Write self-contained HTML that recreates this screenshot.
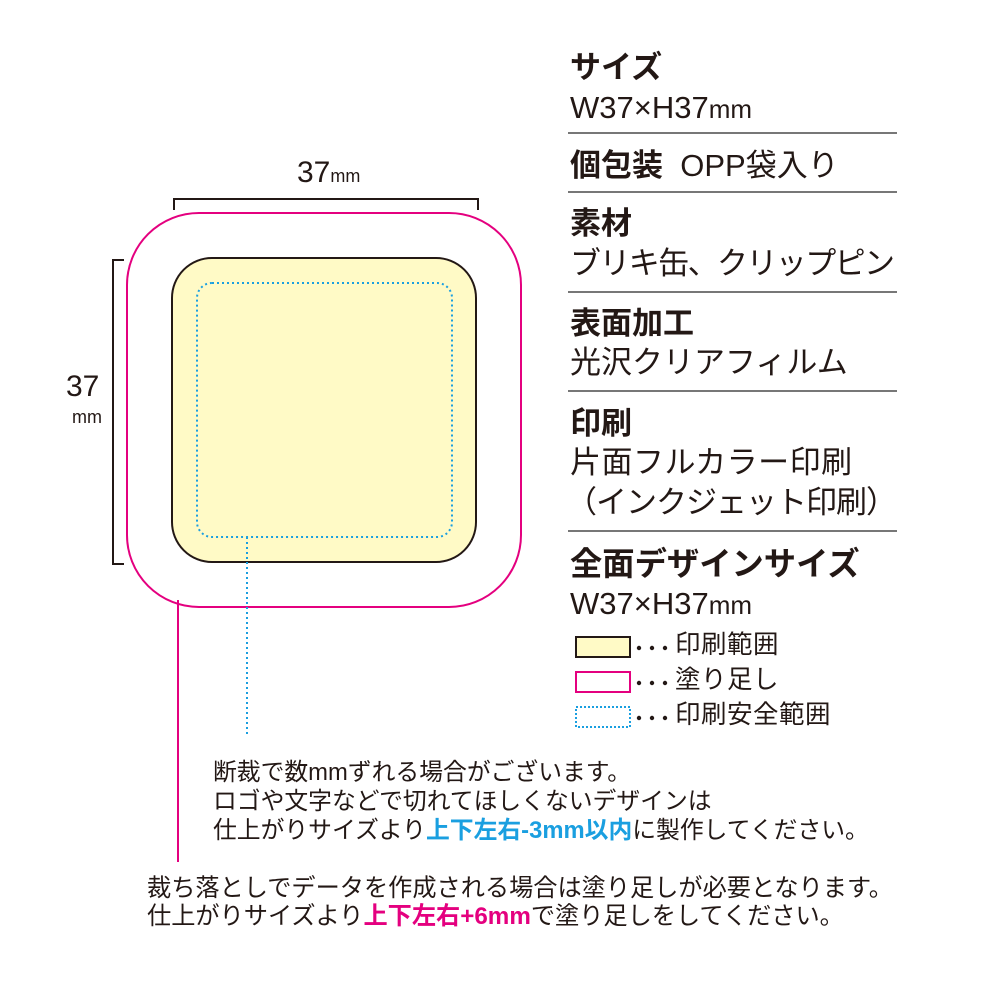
<!DOCTYPE html>
<html><head><meta charset="utf-8"><style>
body{margin:0;width:1000px;height:1000px;background:#fff;position:relative;overflow:hidden;font-family:"Liberation Sans","Noto Sans CJK JP",sans-serif;color:#231815}
.t{position:absolute;white-space:nowrap;line-height:1}
.h{font-weight:bold;font-size:31px}
.n{font-size:31px}
.hr{position:absolute;left:568px;width:329px;height:2px;background:#777}
.s{font-size:23.8px}
.b{font-size:24.2px}
.lg{font-size:25.5px;letter-spacing:0.5px}
.d{display:inline-block;width:42px;font-size:22px;letter-spacing:3px}
</style></head><body>
<svg width="1000" height="1000" style="position:absolute;left:0;top:0">
<rect x="127" y="213" width="394" height="394" rx="72" fill="none" stroke="#e4007f" stroke-width="2"/>
<rect x="172" y="258" width="304" height="304" rx="40" fill="#fffac6" stroke="#231815" stroke-width="2"/>
<rect x="197" y="283" width="255" height="254" rx="15" fill="none" stroke="#1a9fe0" stroke-width="2" stroke-dasharray="2 3"/>
<line x1="247" y1="537" x2="247" y2="735" stroke="#1a9fe0" stroke-width="2" stroke-dasharray="2 3"/>
<line x1="178" y1="600" x2="178" y2="862" stroke="#e4007f" stroke-width="2"/>
<polyline points="174,210 174,199 478,199 478,210" fill="none" stroke="#231815" stroke-width="2"/>
<polyline points="124,260 113,260 113,564 124,564" fill="none" stroke="#231815" stroke-width="2"/>
<rect x="576" y="637" width="54" height="20" fill="#fffac6" stroke="#231815" stroke-width="2"/>
<rect x="576" y="672" width="54" height="20" fill="none" stroke="#e4007f" stroke-width="2"/>
<rect x="576" y="707" width="54" height="20" fill="none" stroke="#1a9fe0" stroke-width="2" stroke-dasharray="2 2"/>
<g fill="#231815"><circle cx="639" cy="648" r="2.2"/><circle cx="652" cy="648" r="2.2"/><circle cx="665" cy="648" r="2.2"/>
<circle cx="639" cy="683" r="2.2"/><circle cx="652" cy="683" r="2.2"/><circle cx="665" cy="683" r="2.2"/>
<circle cx="639" cy="718" r="2.2"/><circle cx="652" cy="718" r="2.2"/><circle cx="665" cy="718" r="2.2"/></g>
</svg>
<div class="t" style="left:297px;top:158px;font-size:30px">37<span style="font-size:18px">mm</span></div>
<div class="t" style="left:66px;top:372px;font-size:30px">37</div>
<div class="t" style="left:72px;top:408px;font-size:18px">mm</div>

<div class="t h" style="left:570px;top:52px">サイズ</div>
<div class="t n" style="left:570px;top:92px">W37×H37<span style="font-size:26px">mm</span></div>
<div class="hr" style="top:132px"></div>
<div class="t h" style="left:570px;top:150px">個包装 <span style="font-weight:normal">&nbsp;OPP袋入り</span></div>
<div class="hr" style="top:191px"></div>
<div class="t h" style="left:570px;top:208px">素材</div>
<div class="t n" style="left:570px;top:248px;letter-spacing:-1.6px">ブリキ缶、クリップピン</div>
<div class="hr" style="top:291px"></div>
<div class="t h" style="left:570px;top:308px">表面加工</div>
<div class="t n" style="left:570px;top:347px">光沢クリアフィルム</div>
<div class="hr" style="top:390px"></div>
<div class="t h" style="left:570px;top:408px">印刷</div>
<div class="t n" style="left:570px;top:447px;letter-spacing:0.5px">片面フルカラー印刷</div>
<div class="t n" style="left:566px;top:487px;letter-spacing:-1px">（インクジェット印刷）</div>
<div class="hr" style="top:530px"></div>
<div class="t h" style="left:570px;top:548px;font-size:32.3px">全面デザインサイズ</div>
<div class="t n" style="left:570px;top:588px">W37×H37<span style="font-size:26px">mm</span></div>
<div class="t lg" style="left:675px;top:633px">印刷範囲</div>
<div class="t lg" style="left:675px;top:668px">塗り足し</div>
<div class="t lg" style="left:675px;top:703px">印刷安全範囲</div>

<div class="t s" style="left:213px;top:761px">断裁で数mmずれる場合がございます。</div>
<div class="t s" style="left:213px;top:790px">ロゴや文字などで切れてほしくないデザインは</div>
<div class="t s" style="left:213px;top:819px">仕上がりサイズより<b style="color:#1a9fe0">上下左右-3mm以内</b>に製作してください。</div>
<div class="t b" style="left:147px;top:877px">裁ち落としでデータを作成される場合は塗り足しが必要となります。</div>
<div class="t b" style="left:147px;top:905px">仕上がりサイズより<b style="color:#e4007f">上下左右+6mm</b>で塗り足しをしてください。</div>
</body></html>
